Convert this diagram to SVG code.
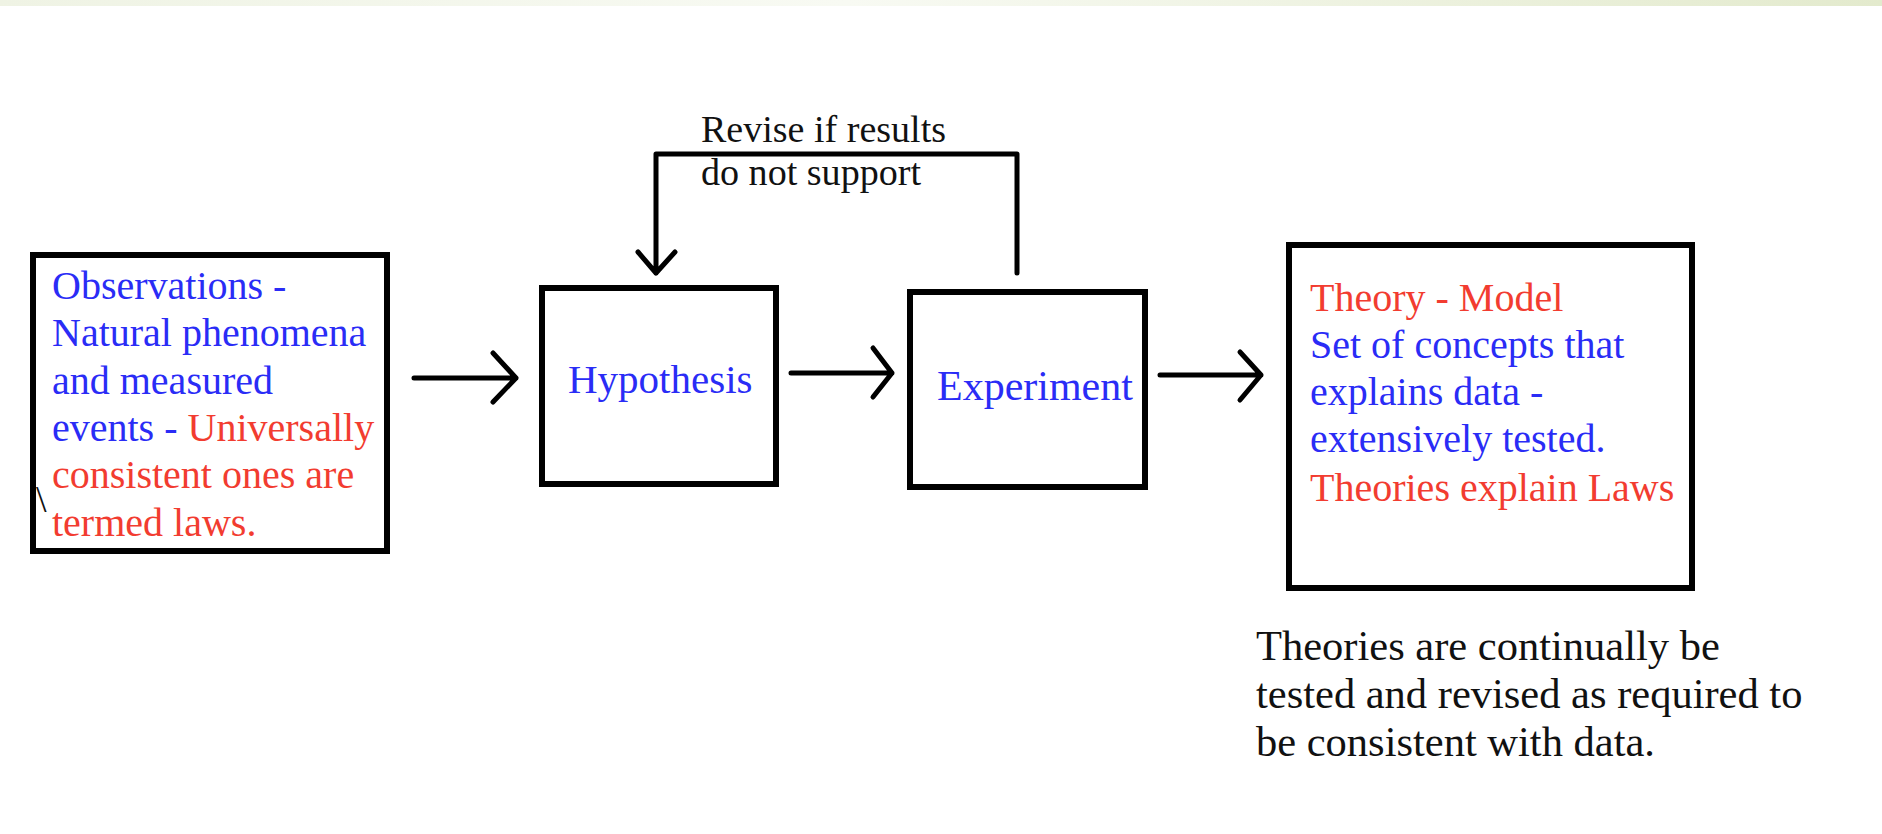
<svg xmlns="http://www.w3.org/2000/svg" width="1882" height="834" viewBox="0 0 1882 834">
<defs>
<linearGradient id="band" x1="0" y1="0" x2="1" y2="0">
<stop offset="0" stop-color="#eff3e4"/>
<stop offset="0.45" stop-color="#f8faf3"/>
<stop offset="1" stop-color="#e3eacd"/>
</linearGradient>
<style>
.box{fill:#ffffff;stroke:#000000;stroke-width:6}
.line{fill:none;stroke:#000000;stroke-width:5;stroke-linecap:round;stroke-linejoin:round}
text{font-family:"Liberation Serif","Times New Roman",serif;font-size:40px}
.b{fill:#2a2cf6}
.r{fill:#f23c30}
.k{fill:#111111}
.note{font-size:42.5px}
.lbl{font-size:37px}
</style>
</defs>
<rect width="1882" height="834" fill="#ffffff"/>
<rect width="1882" height="6" fill="url(#band)"/>

<g id="observations">
<rect class="box" x="33" y="255" width="354" height="296"/>
<text class="b" x="52" y="299">Observations -</text>
<text class="b" x="52" y="346">Natural phenomena</text>
<text class="b" x="52" y="394">and measured</text>
<text x="52" y="441"><tspan class="b">events - </tspan><tspan class="r">Universally</tspan></text>
<text class="r" x="52" y="488">consistent ones are</text>
<text class="r" x="52" y="536">termed laws.</text>
<text class="k" x="36" y="512" style="font-size:38px">\</text>
</g>

<g id="hypothesis">
<rect class="box" x="542" y="288" width="234" height="196"/>
<text class="b" x="568" y="393" style="font-size:41px">Hypothesis</text>
</g>

<g id="experiment">
<rect class="box" x="910" y="292" width="235" height="195"/>
<text class="b" x="937" y="400" style="font-size:42px">Experiment</text>
</g>

<g id="theory">
<rect class="box" x="1289" y="245" width="403" height="343"/>
<text class="r" x="1310" y="311">Theory - Model</text>
<text class="b" x="1310" y="358">Set of concepts that</text>
<text class="b" x="1310" y="405">explains data -</text>
<text class="b" x="1310" y="452">extensively tested.</text>
<text class="r" x="1310" y="501">Theories explain Laws</text>
</g>

<g id="note">
<text class="k note" x="1256" y="660">Theories are continually be</text>
<text class="k note" x="1256" y="708">tested and revised as required to</text>
<text class="k note" x="1256" y="756">be consistent with data.</text>
</g>

<g id="connectors">
<path class="line" d="M414 378 H516 M493 353 L516 378 L493 402"/>
<path class="line" d="M791 373 H892 M873 348 L892 373 L873 397"/>
<path class="line" d="M1160 375 H1261 M1240 352 L1261 375 L1240 400"/>
<path class="line" d="M1017 273 V154 H656 V273 M638 252 L656 273 L675 252"/>
<text class="k lbl" x="701" y="142" textLength="245" lengthAdjust="spacingAndGlyphs">Revise if results</text>
<text class="k lbl" x="701" y="185" textLength="220" lengthAdjust="spacingAndGlyphs">do not support</text>
</g>
</svg>
